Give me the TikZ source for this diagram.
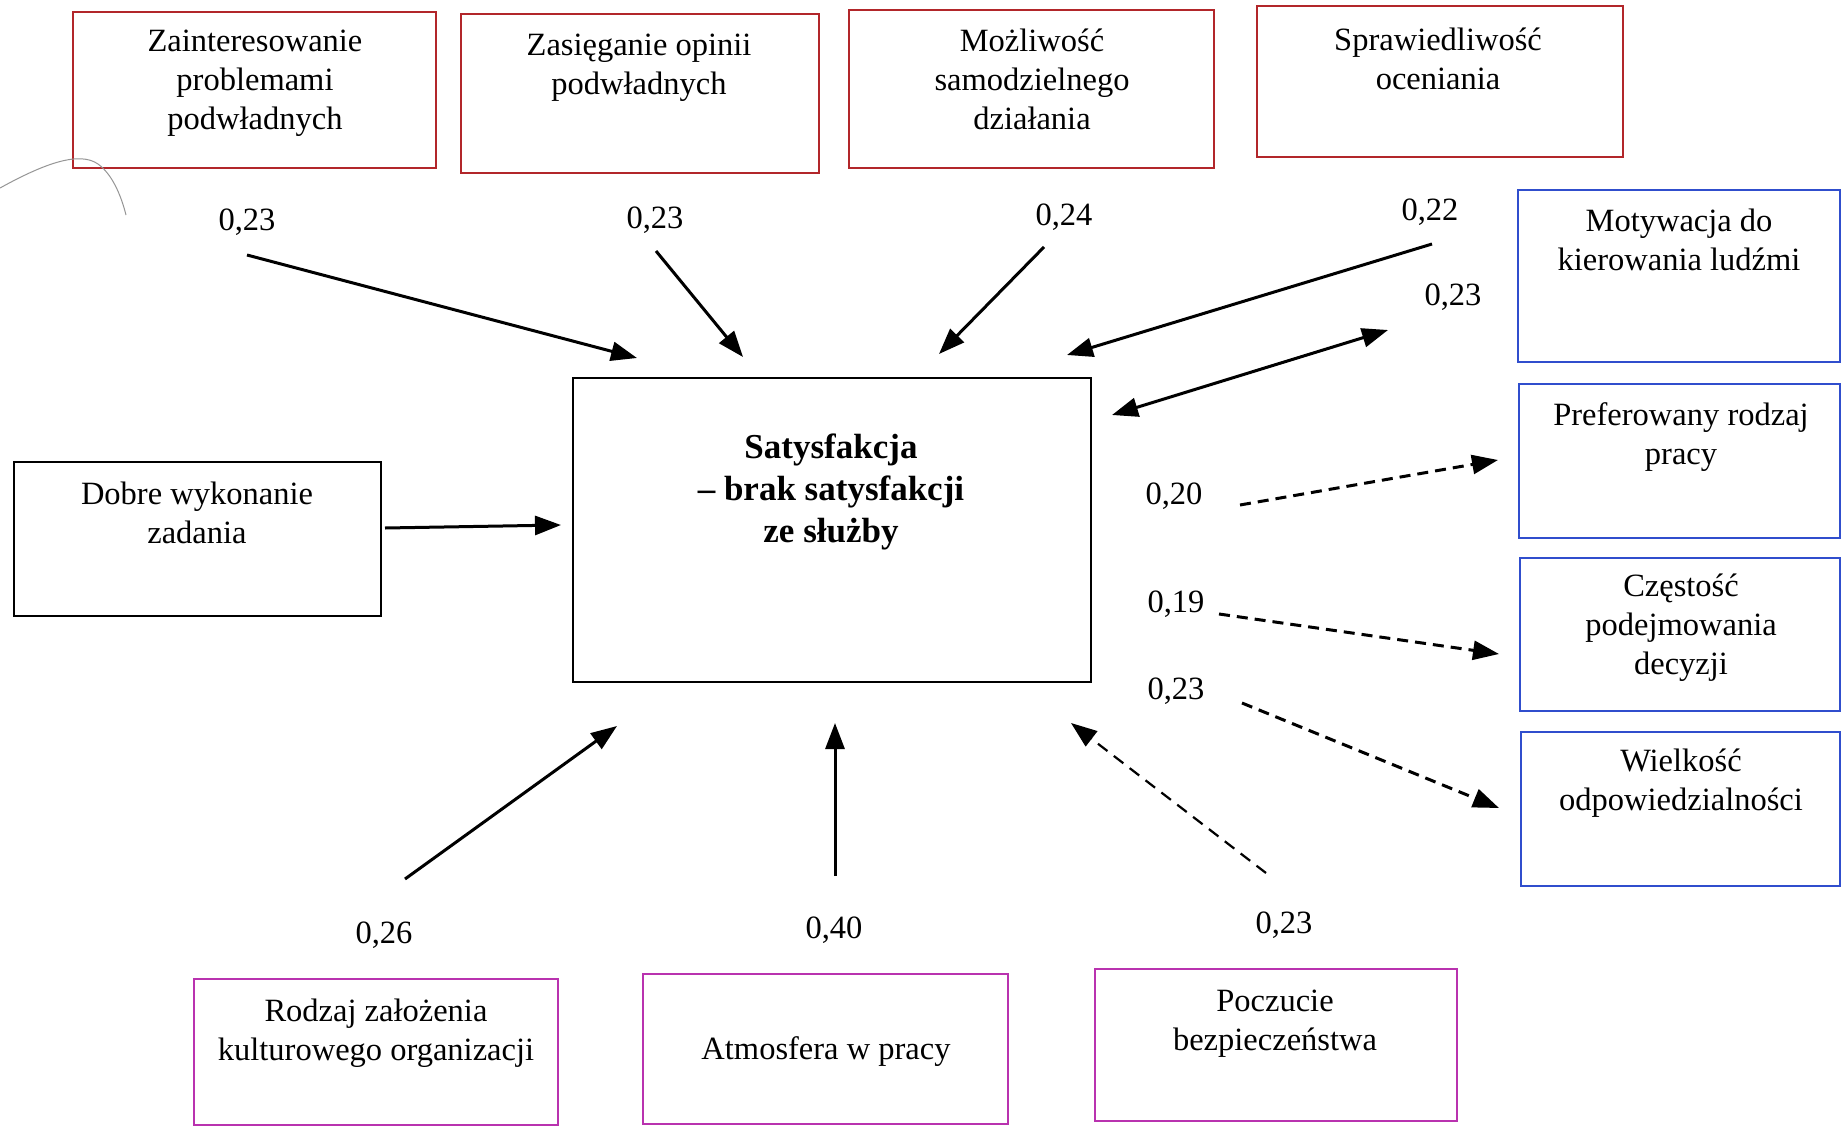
\documentclass[tikz,border=0pt]{standalone}
\usepackage{fontspec}
\setmainfont{Liberation Serif}
\usetikzlibrary{arrows.meta,fit}
\definecolor{boxred}{RGB}{178,38,42}
\definecolor{boxblue}{RGB}{48,78,205}
\definecolor{boxmag}{RGB}{185,50,175}
\definecolor{hair}{RGB}{150,150,150}
\tikzset{
  frame/.style={draw, line width=2.6pt, inner sep=0pt},
  redbox/.style={frame, draw=boxred},
  bluebox/.style={frame, draw=boxblue},
  magbox/.style={frame, draw=boxmag},
  mainbox/.style={frame, draw=black},
  txt/.style={align=center, font=\fontsize{32.5}{39}\selectfont, inner sep=0pt},
  bigtxt/.style={align=center, font=\fontsize{35}{42}\selectfont\bfseries, inner sep=0pt},
  coef/.style={font=\fontsize{32.5}{39}\selectfont, inner sep=0pt},
  link/.style={line width=3pt, -{Triangle[length=26pt,width=19pt]}},
  bilink/.style={line width=3pt, {Triangle[length=26pt,width=19pt]}-{Triangle[length=26pt,width=19pt]}},
  dlink/.style={link, dash pattern=on 11pt off 7pt},
  thindlink/.style={line width=2.2pt, dash pattern=on 12pt off 8pt, -{Triangle[length=26pt,width=19pt]}},
}
\begin{document}
\begin{tikzpicture}[x=1pt,y=-1pt]
\useasboundingbox[fill=white] (0,0) rectangle (1843,1127);

% top row (red)
\node[redbox, fit={(73,12) (436,168)}] (zain) {};
\node[txt] (zaint) at (255,83) {Zainteresowanie\\problemami\\podwładnych};
\node[redbox, fit={(461,14) (819,173)}] (zasi) {};
\node[txt] (zasit) at (639,68) {Zasięganie opinii\\podwładnych};
\node[redbox, fit={(849,10) (1214,168)}] (mozl) {};
\node[txt] (mozlt) at (1032,79) {Możliwość\\samodzielnego\\działania};
\node[redbox, fit={(1257,6) (1623,157)}] (spraw) {};
\node[txt] (sprawt) at (1438,59) {Sprawiedliwość\\oceniania};

% right column (blue)
\node[bluebox, fit={(1518,190) (1840,362)}] (motyw) {};
\node[txt] (motywt) at (1679,240) {Motywacja do\\kierowania ludźmi};
\node[bluebox, fit={(1519,384) (1840,538)}] (pref) {};
\node[txt] (preft) at (1681,437) {Preferowany rodzaj\\pracy};
\node[bluebox, fit={(1520,558) (1840,711)}] (czest) {};
\node[txt] (czestt) at (1681,628) {Częstość\\podejmowania\\decyzji};
\node[bluebox, fit={(1521,732) (1840,886)}] (wielk) {};
\node[txt] (wielkt) at (1681,783) {Wielkość\\odpowiedzialności};

% left box and centre
\node[mainbox, fit={(14,462) (381,616)}] (dobre) {};
\node[txt] (dobret) at (197,513) {Dobre wykonanie\\zadania};
\node[mainbox, fit={(573,378) (1091,682)}] (sat) {};
\node[bigtxt] (satt) at (831,492) {Satysfakcja\\– brak satysfakcji\\ze służby};

% bottom row (magenta)
\node[magbox, fit={(194,979) (558,1125)}] (rodz) {};
\node[txt] (rodzt) at (376,1033) {Rodzaj założenia\\kulturowego organizacji};
\node[magbox, fit={(643,974) (1008,1124)}] (atmo) {};
\node[txt] (atmot) at (826,1052) {Atmosfera w pracy};
\node[magbox, fit={(1095,969) (1457,1121)}] (pocz) {};
\node[txt] (poczt) at (1275,1024) {Poczucie\\bezpieczeństwa};

% coefficients
\node[coef] (k1) at (247,222) {0,23};
\node[coef] (k2) at (655,220) {0,23};
\node[coef] (k3) at (1064,217) {0,24};
\node[coef] (k4) at (1430,212) {0,22};
\node[coef] (k5) at (1453,297) {0,23};
\node[coef] (k6) at (1174,496) {0,20};
\node[coef] (k7) at (1176,604) {0,19};
\node[coef] (k8) at (1176,691) {0,23};
\node[coef] (k9) at (384,935) {0,26};
\node[coef] (k10) at (834,930) {0,40};
\node[coef] (k11) at (1284,925) {0,23};

% arrow end points
\coordinate (a1s) at (247,255);  \coordinate (a1e) at (637,358);
\coordinate (a2s) at (656,251);  \coordinate (a2e) at (743,357);
\coordinate (a3s) at (1044,247); \coordinate (a3e) at (939,354);
\coordinate (a4s) at (1432,244); \coordinate (a4e) at (1067,355);
\coordinate (a5s) at (1112,415); \coordinate (a5e) at (1388,330);
\coordinate (a6s) at (385,528);  \coordinate (a6e) at (561,525);
\coordinate (a7s) at (1240,505); \coordinate (a7e) at (1498,460);
\coordinate (a8s) at (1219,614); \coordinate (a8e) at (1499,654);
\coordinate (a9s) at (1242,703); \coordinate (a9e) at (1499,808);
\coordinate (a10s) at (405,879); \coordinate (a10e) at (617,726);
\coordinate (a11s) at (835,876); \coordinate (a11e) at (835,723);
\coordinate (a12s) at (1266,873); \coordinate (a12e) at (1071,723);

% influences on satisfaction
\draw[link] (a1s) -- (a1e);
\draw[link] (a2s) -- (a2e);
\draw[link] (a3s) -- (a3e);
\draw[link] (a4s) -- (a4e);
\draw[bilink] (a5s) -- (a5e);
\draw[link] (a6s) -- (a6e);
\draw[link] (a10s) -- (a10e);
\draw[link] (a11s) -- (a11e);
\draw[thindlink] (a12s) -- (a12e);

% effects of satisfaction
\draw[dlink] (a7s) -- (a7e);
\draw[dlink] (a8s) -- (a8e);
\draw[dlink] (a9s) -- (a9e);

% stray hair near the top left corner
\draw[hair, line width=1pt] (0,188) .. controls (40,166) and (78,150) .. (98,164)
  .. controls (112,174) and (121,195) .. (126,215);
\end{tikzpicture}
\end{document}
